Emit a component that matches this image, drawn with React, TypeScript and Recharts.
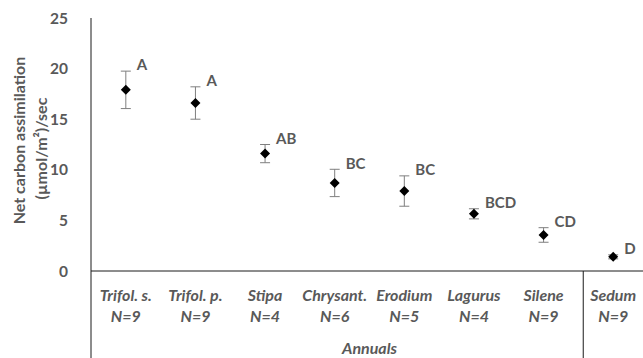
import { ComposedChart, Scatter, XAxis, YAxis, ErrorBar } from 'recharts';

const categories = ['Trifol. s.', 'Trifol. p.', 'Stipa', 'Chrysant.', 'Erodium', 'Lagurus', 'Silene', 'Sedum'];
const sampleSizes = [9, 9, 4, 6, 5, 4, 9, 9];
const means = [17.9, 16.6, 11.6, 8.7, 7.9, 5.65, 3.56, 1.4];
const errors = [1.85, 1.6, 0.9, 1.35, 1.5, 0.5, 0.72, 0.2];
const letters = ['A', 'A', 'AB', 'BC', 'BC', 'BCD', 'CD', 'D'];
const groupOf = [0, 0, 0, 0, 0, 0, 0, 1];
const groupNames = ['Annuals', ''];
const yTicks = [0, 5, 10, 15, 20, 25];

const data = categories.map((name, i) => ({
    name,
    n: sampleSizes[i],
    mean: means[i],
    err: errors[i],
    top: means[i] + errors[i],
    letter: letters[i],
}));

const FONT = 'Lato, "Open Sans", sans-serif';
const GREY = '#595959';
const LINE = '#1a1a1a';

const Diamond = (props: any) => {
    const { cx, cy } = props;
    return <polygon points={`${cx - 5},${cy} ${cx},${cy - 5} ${cx + 5},${cy} ${cx},${cy + 5}`} fill="#000" />;
};

const LetterLabel = (props: any) => {
    const { cx, cy, payload } = props;
    return (
        <text x={cx + 11} y={cy - 6} dy="0.35em" fill={GREY} fontFamily={FONT} fontSize={15} fontWeight="bold">
            {payload.letter}
        </text>
    );
};

const CategoryTick = (props: any) => {
    const { x, y, payload, index, width, height, visibleTicksCount } = props;
    const band = width / visibleTicksCount;
    const i = index;
    const lastInGroup = i < categories.length - 1 && groupOf[i] !== groupOf[i + 1];
    const textProps = { textAnchor: 'middle' as const, fill: GREY, fontFamily: FONT, fontSize: 16, fontWeight: 'bold', fontStyle: 'italic' };
    return (
        <g>
            <text x={x} y={y + 30} {...textProps}>
                {payload.value}
            </text>
            <text x={x} y={y + 51} {...textProps}>
                {`N=${sampleSizes[i]}`}
            </text>
            {i === 0 && <line x1={x - band / 2} x2={x - band / 2} y1={y} y2={y + height} stroke={LINE} />}
            {/* the group divider sits a little right of the band edge, as in the original */}
            {lastInGroup && <line x1={x + band * 0.57} x2={x + band * 0.57} y1={y} y2={y + height} stroke={LINE} />}
            {i === 3 && (
                <text x={x + band / 2} y={y + 83} {...textProps}>
                    {groupNames[groupOf[i]]}
                </text>
            )}
        </g>
    );
};

const YTitle = (props: any) => {
    const { viewBox } = props;
    const cy = viewBox.y + viewBox.height / 2;
    return (
        <g fill={GREY} fontFamily={FONT} fontSize={16} fontWeight="bold">
            <text x={0} y={0} textAnchor="middle" transform={`translate(${viewBox.x + 25}, ${cy - 4}) rotate(-90)`}>
                Net carbon assimilation
            </text>
            <text x={0} y={0} textAnchor="middle" transform={`translate(${viewBox.x + 47}, ${cy + 4}) rotate(-90)`}>
                (µmol/m²)/sec
            </text>
        </g>
    );
};

export default function App() {
    return (
        <div style={{ position: 'absolute', left: 0, top: 0, width: 643, height: 358, overflow: 'hidden', background: '#fff' }}>
            <ComposedChart width={648} height={358} data={data} margin={{ top: 18, right: 0, bottom: 0, left: 0 }}>
                <XAxis
                    dataKey="name"
                    type="category"
                    scale="band"
                    height={87}
                    tickSize={0}
                    tickMargin={0}
                    tickLine={false}
                    axisLine={{ stroke: LINE }}
                    interval={0}
                    tick={<CategoryTick />}
                />
                <YAxis
                    type="number"
                    domain={[0, 25]}
                    ticks={yTicks}
                    width={91}
                    tickSize={0}
                    tickMargin={23}
                    tickLine={false}
                    axisLine={{ stroke: LINE }}
                    tick={{ fill: GREY, fontFamily: FONT, fontSize: 15.5, fontWeight: 'bold' }}
                    label={{ content: <YTitle /> }}
                />
                <Scatter dataKey="top" shape={<LetterLabel />} isAnimationActive={false} />
                <Scatter dataKey="mean" shape={<Diamond />} isAnimationActive={false}>
                    <ErrorBar dataKey="err" direction="y" width={5} stroke="#7f7f7f" strokeWidth={1} />
                </Scatter>
            </ComposedChart>
        </div>
    );
}
